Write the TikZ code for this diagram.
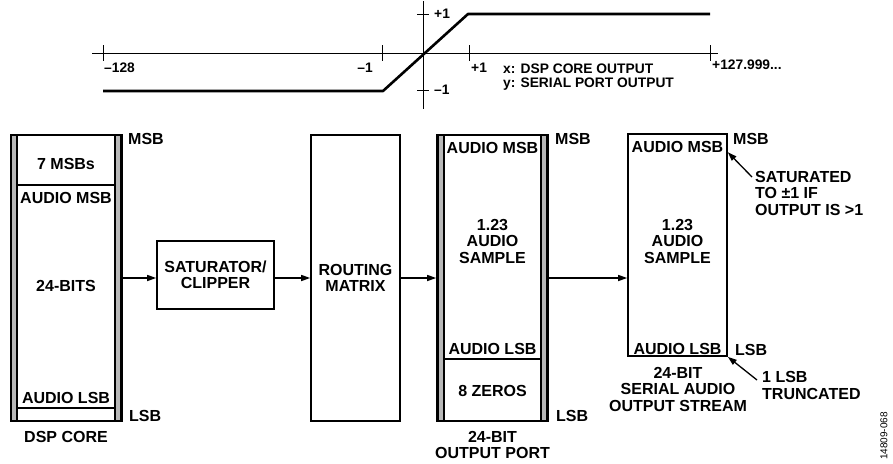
\documentclass[tikz,border=0pt]{standalone}
\usepackage{fontspec}
\setmainfont{Liberation Sans}
\usetikzlibrary{arrows.meta}

\begin{document}
\begin{tikzpicture}[x=1pt, y=-1pt,
        every node/.style={font=\fontsize{16}{16.5}\selectfont\bfseries, inner sep=0pt, align=center},
        blockbox/.style={draw, line width=1.6pt},
        bar/.style={draw, line width=1.2pt, fill=black!28},
        divline/.style={line width=1.2pt},
        flow/.style={line width=1.3pt, -{Triangle[length=9pt,width=6pt]}},
        axis/.style={line width=0.8pt},
        curve/.style={line width=2.6pt, line join=round},
        small/.style={font=\fontsize{13.8}{14.5}\selectfont\bfseries}]
    \useasboundingbox (0,0) rectangle (893,463);

    % transfer curve
    \coordinate (x-left) at (92,53);
    \coordinate (x-right) at (718,53);
    \coordinate (y-top) at (423,1);
    \coordinate (y-bottom) at (423,109);
    \draw[axis] (x-left) -- (x-right);
    \draw[axis] (y-top) -- (y-bottom);
    \foreach \tick in {103,382,469,710}
        \draw[axis] (\tick,45) -- (\tick,61);
    \foreach \tick in {14,90}
        \draw[axis] (417,\tick) -- (429,\tick);
    \coordinate (clip-low) at (383,91);
    \coordinate (clip-high) at (468,14);
    \draw[curve] (103,91) -- (clip-low) -- (clip-high) -- (710,14);
    \node[small, anchor=west] (lbl-min) at (104,68) {\textendash128};
    \node[small, anchor=east] (lbl-neg) at (373,68) {\textendash1};
    \node[small, anchor=west] (lbl-pos) at (471,68) {+1};
    \node[small, anchor=west] (lbl-max) at (712,65) {+127.999...};
    \node[small, anchor=west] (lbl-top) at (434,14) {+1};
    \node[small, anchor=west] (lbl-bot) at (434,90) {\textendash1};
    \node[small, anchor=west, align=left] (legend) at (503,77) {x: DSP CORE OUTPUT\\y: SERIAL PORT OUTPUT};

    % DSP core word
    \node[blockbox, minimum width=111pt, minimum height=286pt] (dsp) at (66.5,278) {};
    \draw[bar] (11,135) rectangle (17,421);
    \draw[bar] (115,135) rectangle (121,421);
    \draw[divline] (17,185) -- (115,185);
    \draw[divline] (17,408) -- (115,408);
    \node (dsp-msbs) at (66,164) {7 MSBs};
    \node (dsp-amsb) at (66,198) {AUDIO MSB};
    \node (dsp-bits) at (66,286) {24-BITS};
    \node (dsp-alsb) at (66,398) {AUDIO LSB};
    \node[anchor=west] (dsp-msb) at (128,139) {MSB};
    \node[anchor=west] (dsp-lsb) at (129,416) {LSB};
    \node (dsp-name) at (66,437) {DSP CORE};

    % saturator and routing
    \node[blockbox, minimum width=117pt, minimum height=68pt] (sat) at (215.5,275) {SATURATOR/\\CLIPPER};
    \node[blockbox, minimum width=89pt, minimum height=286pt] (rout) at (355.5,278) {ROUTING\\MATRIX};

    % output port word
    \node[blockbox, minimum width=111pt, minimum height=286pt] (port) at (492.5,278) {};
    \draw[bar] (438,135) rectangle (444,421);
    \draw[bar] (541,135) rectangle (547,421);
    \draw[divline] (444,359) -- (541,359);
    \node (port-amsb) at (492.5,148) {AUDIO MSB};
    \node (port-sample) at (492.5,241) {1.23\\AUDIO\\SAMPLE};
    \node (port-alsb) at (492.5,349) {AUDIO LSB};
    \node (port-zeros) at (492.5,391) {8 ZEROS};
    \node[anchor=west] (port-msb) at (555,139) {MSB};
    \node[anchor=west] (port-lsb) at (556,416) {LSB};
    \node (port-name) at (492.5,445) {24-BIT\\OUTPUT PORT};

    % serial stream word
    \node[blockbox, minimum width=99pt, minimum height=222pt] (ser) at (677.5,245) {};
    \node (ser-amsb) at (677.5,147) {AUDIO MSB};
    \node (ser-sample) at (677.5,241) {1.23\\AUDIO\\SAMPLE};
    \node (ser-alsb) at (677.5,349) {AUDIO LSB};
    \node[anchor=west] (ser-msb) at (733,139) {MSB};
    \node[anchor=west] (ser-lsb) at (735,350) {LSB};
    \node (ser-name) at (678,389) {24-BIT\\SERIAL AUDIO\\OUTPUT STREAM};

    % signal flow
    \draw[flow] (dsp.east) -- (dsp.east -| sat.west);
    \draw[flow] (sat.east |- rout.west) -- (rout.west);
    \draw[flow] (rout.east) -- (port.west);
    \draw[flow] (port.east) -- (ser.west |- port.east);

    % notes
    \node[anchor=west, align=left] (note-sat) at (755,193) {SATURATED\\TO \char"00B1 1 IF\\OUTPUT IS >1};
    \node[anchor=west, align=left] (note-lsb) at (762,385.5) {1 LSB\\TRUNCATED};
    \coordinate (sat-tail) at (752,177);
    \coordinate (lsb-tail) at (757,380);
    \draw[flow] (sat-tail) -- ([yshift=-19pt]ser.north east);
    \draw[flow] (lsb-tail) -- (ser.south east);

    \node[rotate=90, font=\fontsize{10}{11}\selectfont] (fig-num) at (884,436) {14809-068};
\end{tikzpicture}
\end{document}
